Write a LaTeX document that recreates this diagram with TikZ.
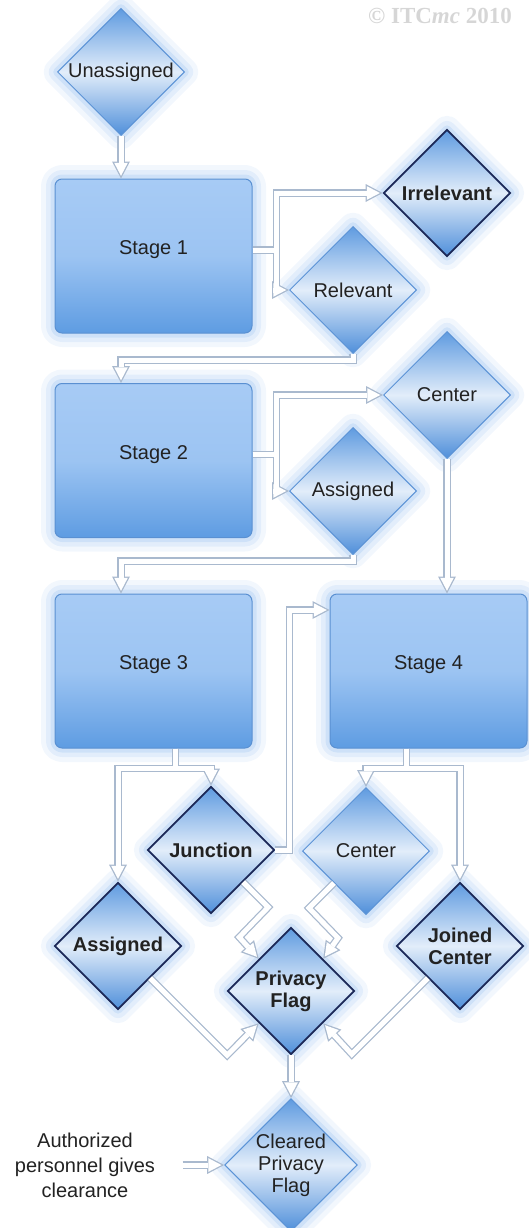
\documentclass[tikz,border=0pt]{standalone}
\usepackage{fontspec}
\setmainfont{Liberation Sans}
\newfontfamily\stampfont{Liberation Serif}
\usepackage{xcolor}
\usepackage{tikz}
\usetikzlibrary{shapes.geometric,arrows.meta}
\definecolor{boxtop}{HTML}{A7CBF5}
\definecolor{boxbot}{HTML}{5E9CE2}
\definecolor{boxline}{HTML}{5A90D2}
\definecolor{gatetop}{HTML}{5F9BE0}
\definecolor{gatemid}{HTML}{E2EDFA}
\definecolor{gatebot}{HTML}{4F8FDA}
\definecolor{gateline}{HTML}{5B93D6}
\definecolor{gatedark}{HTML}{1B2858}
\definecolor{glowblue}{HTML}{A9CBF2}
\definecolor{flowline}{HTML}{A9B9CE}
\definecolor{inkgray}{HTML}{222222}
\definecolor{stampgray}{HTML}{D6D6D6}

\begin{document}
\begin{tikzpicture}[x=1pt,y=-1pt,
  glow/.style={preaction={draw=glowblue,draw opacity=.15,line width=28pt,line join=round},
    preaction={draw=glowblue,draw opacity=.22,line width=18pt,line join=round},
    preaction={draw=glowblue,draw opacity=.35,line width=9pt,line join=round}},
  stagebox/.style={glow,rectangle,draw=boxline,line width=1pt,rounded corners=7pt,top color=boxtop,bottom color=boxbot,middle color=boxtop!85!boxbot,minimum width=197pt,minimum height=154pt,text depth=16pt,font=\fontsize{20}{22}\selectfont,text=inkgray},
  gate/.style={glow,diamond,aspect=1,draw=gateline,line width=1pt,top color=gatetop,bottom color=gatebot,middle color=gatemid,minimum width=127pt,minimum height=127pt,inner sep=0pt,align=center,font=\fontsize{20}{22}\selectfont,text=inkgray},
  darkgate/.style={gate,draw=gatedark,line width=1.8pt,font=\bfseries\fontsize{20}{22}\selectfont},
  flowedge/.style={draw=flowline,line width=7.5pt,-{Triangle[length=17pt,width=18pt,line width=0pt]}},
  flowcore/.style={draw=white,line width=5pt,shorten >=2.7pt,-{Triangle[length=13pt,width=13.6pt,line width=0pt]}}
]
\useasboundingbox (0,0) rectangle (529,1228);
\node[font=\stampfont\bfseries\fontsize{23}{23}\selectfont,text=stampgray] (stamp) at (440,16) {© ITC\textit{mc} 2010};

\node[gate] (una) at (121,72) {Unassigned};
\node[stagebox] (s1) at (153.5,256) {Stage 1};
\node[darkgate] (irr) at (447,193) {Irrelevant};
\node[gate] (rel) at (353,290) {Relevant};
\node[stagebox] (s2) at (153.5,460.5) {Stage 2};
\node[gate] (cen1) at (447,395) {Center};
\node[gate] (asg1) at (353,491) {Assigned};
\node[stagebox] (s3) at (153.5,671) {Stage 3};
\node[stagebox] (s4) at (428.5,671) {Stage 4};
\node[darkgate] (jun) at (211,850) {Junction};
\node[gate] (cen2) at (366,851) {Center};
\node[darkgate] (asg2) at (118,946) {Assigned};
\node[darkgate] (joi) at (460,946) {Joined\\Center};
\node[darkgate] (pf) at (291,991) {Privacy\\Flag};
\node[gate] (clr) at (291,1165) {Cleared\\Privacy\\Flag};
\node[align=center,font=\fontsize{20}{25}\selectfont,text=inkgray] (auth) at (85,1165) {Authorized\\personnel gives\\clearance};

% hollow arrows: outline pass first, then the white core
\foreach \layer in {flowedge,flowcore}{
  \draw[\layer] (una.south) -- (una.south |- s1.north);
  \draw[\layer] ([yshift=6pt]s1.east) -- ++(24,0) |- (irr.west);
  \draw[\layer] ([yshift=6pt]s1.east) -- ++(24,0) |- (rel.west);
  \draw[\layer] (rel.south) -- ++(0,6) -| (una.south |- s2.north);
  \draw[\layer] ([yshift=6pt]s2.east) -- ++(24,0) |- (cen1.west);
  \draw[\layer] ([yshift=6pt]s2.east) -- ++(24,0) |- (asg1.west);
  \draw[\layer] (asg1.south) -- ++(0,6) -| (una.south |- s3.north);
  \draw[\layer] (cen1.south) -- (cen1.south |- s4.north);
  \draw[\layer] ([xshift=22pt]s3.south) -- ++(0,20) -| (asg2.north);
  \draw[\layer] ([xshift=22pt]s3.south) -- ++(0,20) -| (jun.north);
  \draw[\layer] (jun.east) -- ++(14,0) |- ([yshift=61pt]s4.west);
  \draw[\layer] ([xshift=-22pt]s4.south) -- ++(0,20) -| (cen2.north);
  \draw[\layer] ([xshift=-22pt]s4.south) -- ++(0,20) -| (joi.north);
  \draw[\layer] (jun.south east) -- ++(25,25) -- ++(-29,30) -- (pf.north west);
  \draw[\layer] (cen2.south west) -- ++(-25,25) -- ++(29,30) -- (pf.north east);
  \draw[\layer] (asg2.south east) -- ++(77,77) -- (pf.south west);
  \draw[\layer] (joi.south west) -- ++(-76,76) -- (pf.south east);
  \draw[\layer] (pf.south) -- (clr.north);
  \draw[\layer] ([xshift=24pt]auth.east) -- (clr.west);
}
\end{tikzpicture}
\end{document}
